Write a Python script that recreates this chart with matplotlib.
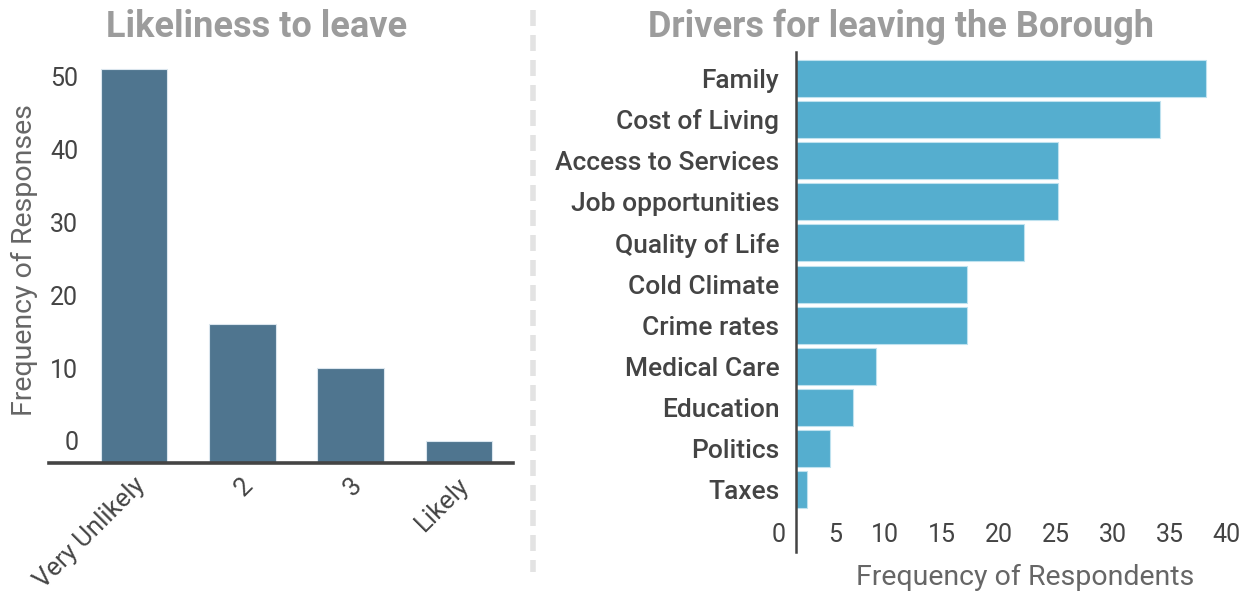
import matplotlib
matplotlib.use('Agg')
import matplotlib.pyplot as plt
from matplotlib.lines import Line2D
from matplotlib.transforms import ScaledTranslation

plt.rcParams['font.family'] = ['Roboto', 'DejaVu Sans']
plt.rcParams['lines.scale_dashes'] = False

# likeliness of leaving (1 = very unlikely ... 4 = likely)
likeliness_labels = ['Very Unlikely', '2', '3', 'Likely']
likeliness_counts = [54, 19, 13, 3]

# reasons given for leaving
driver_labels = ['Family', 'Cost of Living', 'Access to Services', 'Job opportunities',
                 'Quality of Life', 'Cold Climate', 'Crime rates', 'Medical Care',
                 'Education', 'Politics', 'Taxes']
driver_counts = [36, 32, 23, 23, 20, 15, 15, 7, 5, 3, 1]

left_ticks = [0, 10, 20, 30, 40, 50]
right_ticks = [0, 5, 10, 15, 20, 25, 30, 35, 40]

W, H = 1255, 592
DARK = '#444444'
MID = '#666666'
TITLE = '#9c9c9c'


def px(x0, y0, w, h):
    # pixel box (from top-left) -> figure fraction rect
    return [x0 / W, 1 - (y0 + h) / H, w / W, h / H]


def shift(label, dx, dy, fig):
    label.set_transform(label.get_transform() + ScaledTranslation(dx / 100, dy / 100, fig.dpi_scale_trans))


fig = plt.figure(figsize=(W / 100, H / 100), dpi=100)

# ---- left: likeliness to leave ----
ax1 = fig.add_axes(px(49, 462.5 - 55 * 7.28, 464, 55 * 7.28))
xs = range(len(likeliness_counts))
ax1.bar(xs, likeliness_counts, width=0.615, color='#4f758f', edgecolor='#dbe6ee', linewidth=0.8)
ax1.set_xlim(-0.785, 3.5)
ax1.set_ylim(0, 55)
for s in ['top', 'right', 'left']:
    ax1.spines[s].set_visible(False)
ax1.spines['bottom'].set_color(DARK)
ax1.spines['bottom'].set_linewidth(2.6)
ax1.set_yticks(left_ticks)
ax1.tick_params(axis='both', length=0, pad=0, labelsize=18, labelcolor=DARK)
for lab in ax1.get_yticklabels():
    lab.set_ha('right')
    lab.set_va('center')
    shift(lab, 29.3, 19.2, fig)
ax1.set_xticks(list(xs))
ax1.set_xticklabels(likeliness_labels, rotation=45, ha='right', va='center', rotation_mode='anchor',
                    fontsize=18.5)
for lab in ax1.get_xticklabels():
    shift(lab, 7, -19, fig)

fig.text(257 / W, 1 - 27 / H, 'Likeliness to leave', ha='center', va='center',
         fontsize=26, fontweight='bold', color=TITLE)
fig.text(24 / W, 1 - 260 / H, 'Frequency of Responses', rotation=90, ha='center', va='center',
         fontsize=20.5, color=MID)

# ---- right: drivers for leaving ----
ax2 = fig.add_axes(px(796, 52, 455.6, 500))
ys = range(len(driver_counts))
ax2.barh(ys, driver_counts, height=0.9, color='#55aecf', edgecolor='#bfe2ef', linewidth=0.8)
ax2.set_xlim(0, 40)
ax2.set_ylim(11.51, -0.64)
for s in ['top', 'right', 'bottom']:
    ax2.spines[s].set_visible(False)
ax2.spines['left'].set_color(DARK)
ax2.spines['left'].set_linewidth(1.8)
ax2.set_yticks(list(ys))
ax2.set_yticklabels(driver_labels)
ax2.set_xticks(right_ticks)
ax2.tick_params(axis='x', length=0, pad=0, labelsize=18, labelcolor=DARK)
ax2.tick_params(axis='y', length=0, pad=12, labelsize=19, labelcolor=DARK)
for lab in ax2.get_yticklabels():
    lab.set_fontweight('medium')
for lab in ax2.get_xticklabels():
    lab.set_ha('right')
    lab.set_va('center')
    shift(lab, -10.7, 16.5, fig)

fig.text(901 / W, 1 - 27 / H, 'Drivers for leaving the Borough', ha='center', va='center',
         fontsize=26, fontweight='bold', color=TITLE)
fig.text(1025 / W, 1 - 577 / H, 'Frequency of Respondents', ha='center', va='center',
         fontsize=20.5, color=MID)

# dashed divider between the two panels
fig.add_artist(Line2D([533 / W, 533 / W], [1 - 10 / H, 1 - 572 / H], transform=fig.transFigure,
                      color='#e3e3e3', linewidth=4, dashes=(11.5, 6.5)))

fig.savefig('out.png', dpi=100)
